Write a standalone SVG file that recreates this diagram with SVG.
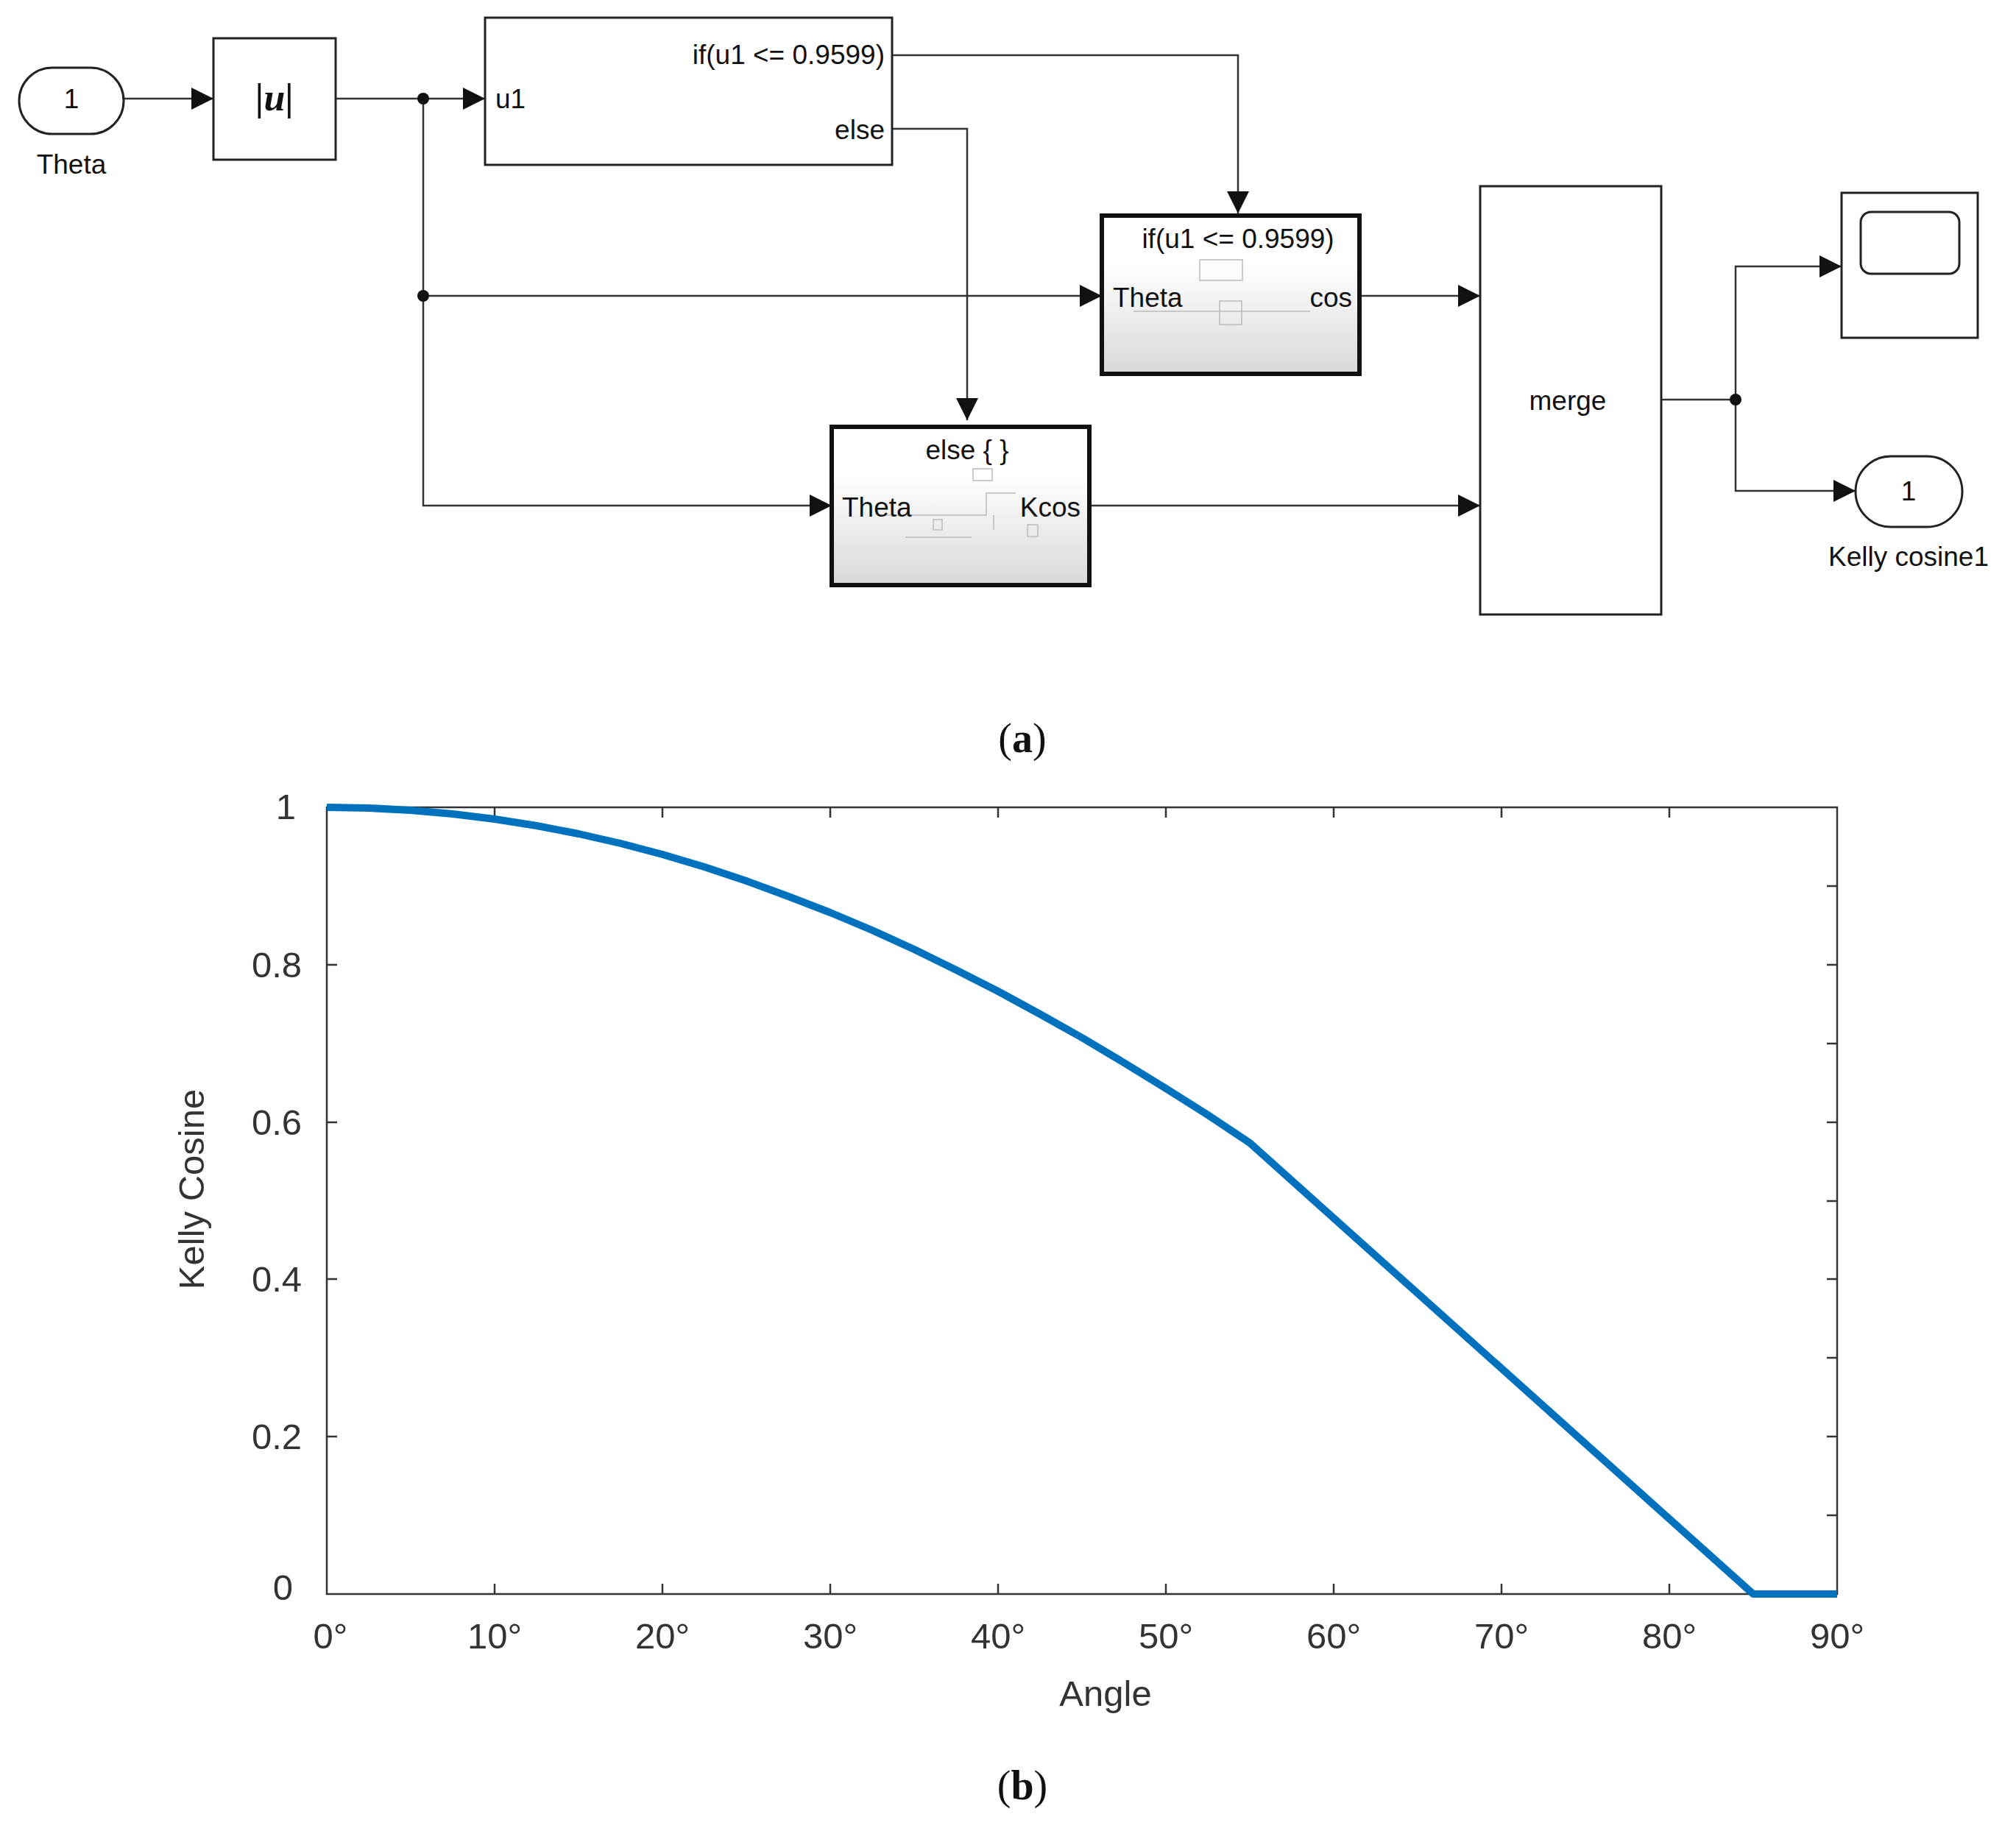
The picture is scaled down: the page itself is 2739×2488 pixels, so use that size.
<svg xmlns="http://www.w3.org/2000/svg" width="2739" height="2488" viewBox="0 0 2739 2488">
<style>
.blk{fill:#fff;stroke:#222;stroke-width:3}
.sub{fill:url(#g);stroke:#111;stroke-width:6}
.ln{fill:none;stroke:#333;stroke-width:2.5}
.t{font-family:"Liberation Sans",Arial,sans-serif;font-size:37px;fill:#111}
.tk{font-family:"Liberation Sans",Arial,sans-serif;font-size:49px;fill:#333}
.ax{fill:none;stroke:#333;stroke-width:2.5}
.cap{font-family:"Liberation Serif","Times New Roman",serif;font-size:56px;fill:#111}
.faint{fill:none;stroke:#bbb;stroke-width:1.5}
</style>
<defs>
<linearGradient id="g" x1="0" y1="0" x2="0" y2="1"><stop offset="0.3" stop-color="#fff"/><stop offset="1" stop-color="#d8d8d8"/></linearGradient>
<marker id="a2" viewBox="0 0 10 10" refX="10" refY="5" markerWidth="30" markerHeight="30" orient="auto" markerUnits="userSpaceOnUse"><path d="M0,0 L10,5 L0,10 z" fill="#111"/></marker>
</defs>
<g id="connectors">
<path class="ln" d="M168,134 H290" marker-end="url(#a2)"/>
<path class="ln" d="M456,134 H659" marker-end="url(#a2)"/>
<path class="ln" d="M575,134 V687 H1130" marker-end="url(#a2)"/>
<path class="ln" d="M575,402 H1497" marker-end="url(#a2)"/>
<path class="ln" d="M1212,75 H1682 V290" marker-end="url(#a2)"/>
<path class="ln" d="M1212,175 H1314 V571" marker-end="url(#a2)"/>
<path class="ln" d="M1847,402 H2011" marker-end="url(#a2)"/>
<path class="ln" d="M1480,687 H2011" marker-end="url(#a2)"/>
<path class="ln" d="M2257,543 H2358 V362 H2502" marker-end="url(#a2)"/>
<path class="ln" d="M2358,543 V667 H2521" marker-end="url(#a2)"/>
<circle cx="575" cy="134" r="8" fill="#111"/>
<circle cx="575" cy="402" r="8" fill="#111"/>
<circle cx="2358" cy="543" r="8" fill="#111"/>
</g>
<g id="theta">
<rect x="26" y="92" width="142" height="90" rx="45" class="blk"/>
<text x="97" y="147" class="t" text-anchor="middle">1</text>
<text x="97" y="236" class="t" font-size="40" text-anchor="middle">Theta</text>
</g>
<g id="abs">
<rect x="290" y="52" width="166" height="165" class="blk"/>
<text x="373" y="150" text-anchor="middle" font-family="Liberation Serif,serif" font-size="52" font-style="italic" font-weight="bold" fill="#111">|u|</text>
</g>
<g id="ifblock">
<rect x="659" y="24" width="553" height="200" class="blk"/>
<text x="673" y="147" class="t">u1</text>
<text x="1202" y="87" class="t" text-anchor="end">if(u1 &lt;= 0.9599)</text>
<text x="1202" y="189" class="t" text-anchor="end">else</text>
</g>
<g id="ifaction">
<rect x="1497" y="293" width="350" height="215" class="sub"/>
<text x="1682" y="337" class="t" text-anchor="middle">if(u1 &lt;= 0.9599)</text>
<rect x="1630" y="353" width="58" height="28" class="faint"/>
<rect x="1657" y="409" width="30" height="32" class="faint"/>
<path class="faint" d="M1540,423 H1780"/>
<text x="1512" y="417" class="t">Theta</text>
<text x="1837" y="417" class="t" text-anchor="end">cos</text>
</g>
<g id="elseaction">
<rect x="1130" y="580" width="350" height="215" class="sub"/>
<text x="1314" y="624" class="t" text-anchor="middle">else { }</text>
<rect x="1322" y="637" width="26" height="16" class="faint"/>
<path class="faint" d="M1200,700 H1340 V670 H1380 M1230,730 H1320 M1350,720 V700"/>
<rect x="1268" y="706" width="12" height="14" class="faint"/>
<rect x="1396" y="713" width="14" height="16" class="faint"/>
<text x="1144" y="702" class="t">Theta</text>
<text x="1468" y="702" class="t" text-anchor="end">Kcos</text>
</g>
<g id="merge">
<rect x="2011" y="253" width="246" height="582" class="blk"/>
<text x="2130" y="557" class="t" font-size="48" text-anchor="middle">merge</text>
</g>
<g id="scope">
<rect x="2502" y="262" width="185" height="197" class="blk"/>
<rect x="2528" y="288" width="134" height="84" rx="14" class="blk"/>
</g>
<g id="outport">
<rect x="2521" y="620" width="145" height="96" rx="48" class="blk"/>
<text x="2593" y="680" class="t" text-anchor="middle">1</text>
<text x="2593" y="769" class="t" font-size="39" text-anchor="middle">Kelly cosine1</text>
</g>
<text x="1389" y="1022" class="cap" text-anchor="middle">(<tspan font-weight="bold">a</tspan>)</text>
<g id="plot">
<rect x="444" y="1097" width="2052" height="1069" class="ax"/>
<path class="ax" d="M672,2166v-14M900,2166v-14M1128,2166v-14M1356,2166v-14M1584,2166v-14M1812,2166v-14M2040,2166v-14M2268,2166v-14M672,1097v14M900,1097v14M1128,1097v14M1356,1097v14M1584,1097v14M1812,1097v14M2040,1097v14M2268,1097v14M444,1952h14M444,1738h14M444,1525h14M444,1311h14M2496,2059h-14M2496,1952h-14M2496,1845h-14M2496,1738h-14M2496,1632h-14M2496,1525h-14M2496,1418h-14M2496,1311h-14M2496,1204h-14"/>
<polyline fill="none" stroke="#0072BD" stroke-width="10" stroke-linejoin="round" points="444,1097 501,1098 558,1101 615,1106 672,1113 729,1122 786,1133 843,1146 900,1161 957,1178 1014,1197 1071,1218 1128,1240 1185,1264 1242,1290 1299,1318 1356,1347 1413,1378 1470,1410 1527,1444 1584,1479 1641,1515 1698,1553 2382,2166 2496,2166"/>
<g class="tk" text-anchor="end">
<text x="402" y="1113">1</text><text x="410" y="1328">0.8</text><text x="410" y="1542">0.6</text><text x="410" y="1755">0.4</text><text x="410" y="1969">0.2</text><text x="398" y="2174">0</text>
</g>
<g class="tk" text-anchor="middle">
<text x="449" y="2240">0°</text><text x="672" y="2240">10°</text><text x="900" y="2240">20°</text><text x="1128" y="2240">30°</text><text x="1356" y="2240">40°</text><text x="1584" y="2240">50°</text><text x="1812" y="2240">60°</text><text x="2040" y="2240">70°</text><text x="2268" y="2240">80°</text><text x="2496" y="2240">90°</text>
</g>
<text x="1502" y="2318" class="tk" font-size="56" text-anchor="middle">Angle</text>
<text transform="translate(277,1616) rotate(-90)" class="tk" font-size="56" fill="#111" text-anchor="middle">Kelly Cosine</text>
</g>
<text x="1389" y="2445" class="cap" text-anchor="middle">(<tspan font-weight="bold">b</tspan>)</text>
</svg>
